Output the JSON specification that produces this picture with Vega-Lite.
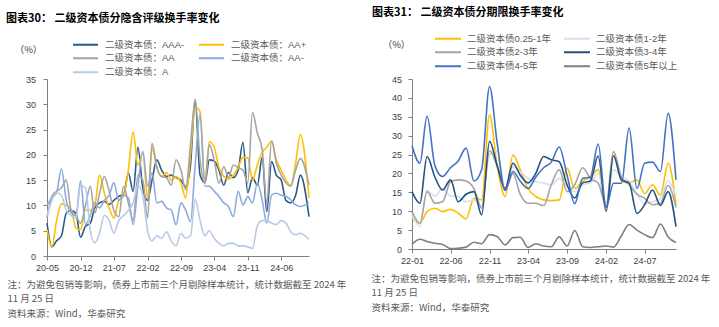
{
  "$schema": "https://vega.github.io/schema/vega-lite/v6.json",
  "background": "white",
  "padding": {"left": 6, "top": 6, "right": 0, "bottom": 0},
  "spacing": 25,
  "config": {
    "font": "Liberation Sans, Noto Sans CJK SC",
    "view": {"stroke": null},
    "axis": {"grid": false, "domainColor": "#7f7f7f", "tickColor": "#7f7f7f", "labelColor": "#404040", "labelFontSize": 9, "tickSize": 4, "labelFont": "Liberation Sans"},
    "title": {"font": "Noto Sans CJK SC", "fontSize": 11, "fontWeight": "bold", "color": "#000000", "anchor": "start", "frame": "group"}
  },
  "resolve": {"scale": {"color": "independent", "x": "independent", "y": "independent"}, "legend": {"color": "independent"}},
  "hconcat": [
    {
      "width": 262,
      "height": 177,
      "title": {"text": "图表30：  二级资本债分隐含评级换手率变化", "dx": -41, "offset": 14},
      "data": {"values": [
        {"d": "2020-05-01", "AAA-": 6.5, "AA+": 5.2, "AA": 7.5, "AA-": 10, "A": 8},
        {"d": "2020-06-01", "AAA-": 1.8, "AA+": 1.8, "AA": 11.8, "AA-": 11.5, "A": 11},
        {"d": "2020-07-01", "AAA-": 3.0, "AA+": 7.0, "AA": 12.8, "AA-": 12.5, "A": 12.5},
        {"d": "2020-08-01", "AAA-": 4.0, "AA+": 10.3, "AA": 13.5, "AA-": 17.2, "A": 12},
        {"d": "2020-09-01", "AAA-": 8.5, "AA+": 10.0, "AA": 15.0, "AA-": 11, "A": 9},
        {"d": "2020-10-01", "AAA-": 9.0, "AA+": 9.3, "AA": 9.1, "AA-": 8.5, "A": 8},
        {"d": "2020-11-01", "AAA-": 8.5, "AA+": 5.5, "AA": 8.0, "AA-": 8, "A": 7.5},
        {"d": "2020-12-01", "AAA-": 3.7, "AA+": 5.2, "AA": 6.5, "AA-": 14.8, "A": 14},
        {"d": "2021-01-01", "AAA-": 5.9, "AA+": 9.1, "AA": 10.0, "AA-": 6.2, "A": 13.5},
        {"d": "2021-02-01", "AAA-": 6.5, "AA+": 9.0, "AA": 13.8, "AA-": 8, "A": 5},
        {"d": "2021-03-01", "AAA-": 9.5, "AA+": 10.0, "AA": 8.5, "AA-": 10.5, "A": 2.6},
        {"d": "2021-04-01", "AAA-": 10.5, "AA+": 16.0, "AA": 12.4, "AA-": 9.5, "A": 4.5},
        {"d": "2021-05-01", "AAA-": 10.8, "AA+": 12.5, "AA": 15.7, "AA-": 11, "A": 8},
        {"d": "2021-06-01", "AAA-": 10.2, "AA+": 9.5, "AA": 12.8, "AA-": 12, "A": 7},
        {"d": "2021-07-01", "AAA-": 11.0, "AA+": 7.5, "AA": 9.0, "AA-": 14.5, "A": 4.5},
        {"d": "2021-08-01", "AAA-": 11.8, "AA+": 11.0, "AA": 7.8, "AA-": 11, "A": 7},
        {"d": "2021-09-01", "AAA-": 12.1, "AA+": 11.8, "AA": 13.8, "AA-": 12, "A": 8},
        {"d": "2021-10-01", "AAA-": 16.4, "AA+": 17.0, "AA": 10.5, "AA-": 11.5, "A": 9},
        {"d": "2021-11-01", "AAA-": 12.8, "AA+": 24.5, "AA": 7.0, "AA-": 6.2, "A": 10.5},
        {"d": "2021-12-01", "AAA-": 21.5, "AA+": 18.0, "AA": 16.0, "AA-": 13.8, "A": 14},
        {"d": "2022-01-01", "AAA-": 13.5, "AA+": 20.3, "AA": 15.0, "AA-": 20.7, "A": 12},
        {"d": "2022-02-01", "AAA-": 11.0, "AA+": 11.5, "AA": 7.5, "AA-": 13.8, "A": 5},
        {"d": "2022-03-01", "AAA-": 15.0, "AA+": 21.3, "AA": 22.3, "AA-": 16.4, "A": 3},
        {"d": "2022-04-01", "AAA-": 19.0, "AA+": 17.5, "AA": 17.5, "AA-": 10.5, "A": 4},
        {"d": "2022-05-01", "AAA-": 17.0, "AA+": 15.7, "AA": 15.7, "AA-": 10.8, "A": 3.5},
        {"d": "2022-06-01", "AAA-": 15.7, "AA+": 16.5, "AA": 15.5, "AA-": 9.5, "A": 4.8},
        {"d": "2022-07-01", "AAA-": 16.0, "AA+": 15.0, "AA": 14.0, "AA-": 9.1, "A": 3},
        {"d": "2022-08-01", "AAA-": 15.5, "AA+": 15.7, "AA": 19.0, "AA-": 6.2, "A": 2},
        {"d": "2022-09-01", "AAA-": 15.0, "AA+": 14.5, "AA": 17.0, "AA-": 10.5, "A": 4.5},
        {"d": "2022-10-01", "AAA-": 13.7, "AA+": 11.5, "AA": 13.1, "AA-": 9.1, "A": 3.5},
        {"d": "2022-11-01", "AAA-": 18.0, "AA+": 20.0, "AA": 22.0, "AA-": 6.8, "A": 4},
        {"d": "2022-12-01", "AAA-": 30.7, "AA+": 29.5, "AA": 31.0, "AA-": 18, "A": 11.2},
        {"d": "2023-01-01", "AAA-": 16.0, "AA+": 28.5, "AA": 19.0, "AA-": 28, "A": 7},
        {"d": "2023-02-01", "AAA-": 14.5, "AA+": 14.4, "AA": 14.5, "AA-": 13.8, "A": 4},
        {"d": "2023-03-01", "AAA-": 19.0, "AA+": 22.6, "AA": 22.0, "AA-": 13.8, "A": 5},
        {"d": "2023-04-01", "AAA-": 18.8, "AA+": 21.5, "AA": 19.0, "AA-": 12.8, "A": 3.5},
        {"d": "2023-05-01", "AAA-": 17.0, "AA+": 17.5, "AA": 14.4, "AA-": 11.8, "A": 2.5},
        {"d": "2023-06-01", "AAA-": 14.0, "AA+": 15.7, "AA": 17.7, "AA-": 10.5, "A": 2},
        {"d": "2023-07-01", "AAA-": 16.5, "AA+": 15.2, "AA": 15.5, "AA-": 9.8, "A": 2.5},
        {"d": "2023-08-01", "AAA-": 15.5, "AA+": 16.0, "AA": 18.0, "AA-": 7.8, "A": 2.5},
        {"d": "2023-09-01", "AAA-": 17.0, "AA+": 17.5, "AA": 17.5, "AA-": 12.8, "A": 2},
        {"d": "2023-10-01", "AAA-": 22.5, "AA+": 19.5, "AA": 17.0, "AA-": 10.1, "A": 2},
        {"d": "2023-11-01", "AAA-": 12.5, "AA+": 19.4, "AA": 14.5, "AA-": 11.8, "A": 1.8},
        {"d": "2023-12-01", "AAA-": 15.5, "AA+": 15.0, "AA": 28.4, "AA-": 10.5, "A": 1.5},
        {"d": "2024-01-01", "AAA-": 14.0, "AA+": 18.0, "AA": 24.3, "AA-": 14.4, "A": 6},
        {"d": "2024-02-01", "AAA-": 19.5, "AA+": 20.5, "AA": 21.0, "AA-": 11, "A": 7},
        {"d": "2024-03-01", "AAA-": 8.8, "AA+": 21.5, "AA": 10.5, "AA-": 6.5, "A": 7},
        {"d": "2024-04-01", "AAA-": 18.7, "AA+": 22.7, "AA": 22.8, "AA-": 12.1, "A": 6.5},
        {"d": "2024-05-01", "AAA-": 16.0, "AA+": 19.0, "AA": 18.4, "AA-": 12.4, "A": 6.2},
        {"d": "2024-06-01", "AAA-": 15.0, "AA+": 17.0, "AA": 16.0, "AA-": 12, "A": 7},
        {"d": "2024-07-01", "AAA-": 11.0, "AA+": 15.0, "AA": 14.5, "AA-": 11.8, "A": 6.5},
        {"d": "2024-08-01", "AAA-": 10.5, "AA+": 14.0, "AA": 13.8, "AA-": 11.1, "A": 4.8},
        {"d": "2024-09-01", "AAA-": 12.0, "AA+": 18.4, "AA": 17.0, "AA-": 10.1, "A": 4.2},
        {"d": "2024-10-01", "AAA-": 16.0, "AA+": 24.0, "AA": 19.3, "AA-": 9.8, "A": 4.5},
        {"d": "2024-11-25", "AAA-": 7.8, "AA+": 11.5, "AA": 14.0, "AA-": 10.5, "A": 3.2}
      ]},
      "transform": [{"fold": ["AAA-", "AA+", "AA", "AA-", "A"], "as": ["k", "v"]}],
      "mark": {"type": "line", "interpolate": "monotone", "strokeWidth": 1.6},
      "encoding": {
        "x": {
          "field": "d", "type": "temporal", "scale": {"type": "utc"},
          "axis": {
            "format": "%y-%m", "labelPadding": 3, "labelFontSize": 9, "labelOverlap": false, "labelFlush": false,
            "values": [
              {"year": 2020, "month": 5, "date": 1, "utc": true},
              {"year": 2020, "month": 12, "date": 1, "utc": true},
              {"year": 2021, "month": 7, "date": 1, "utc": true},
              {"year": 2022, "month": 2, "date": 1, "utc": true},
              {"year": 2022, "month": 9, "date": 1, "utc": true},
              {"year": 2023, "month": 4, "date": 1, "utc": true},
              {"year": 2023, "month": 11, "date": 1, "utc": true},
              {"year": 2024, "month": 6, "date": 1, "utc": true}
            ],
            "title": ["注：为避免包销等影响，债券上市前三个月剔除样本统计，统计数据截至 2024 年", "11 月 25 日", "资料来源：Wind，华泰研究"],
            "titleAlign": "left", "titleAnchor": "start", "titleX": -40, "titleY": 23, "titleBaseline": "top",
            "titleFont": "Noto Sans CJK SC", "titleFontSize": 9.5, "titleFontWeight": "normal", "titleColor": "#595959", "titleLineHeight": 14.5
          }
        },
        "y": {
          "field": "v", "type": "quantitative", "scale": {"domain": [0, 35], "nice": false},
          "axis": {
            "values": [0, 5, 10, 15, 20, 25, 30, 35], "labelPadding": 7.5,
            "title": "（%）", "titleAngle": 0, "titleX": -19, "titleY": -30, "titleAlign": "center", "titleBaseline": "middle",
            "titleFont": "Noto Sans CJK SC", "titleFontSize": 9.5, "titleFontWeight": "normal", "titleColor": "#404040"
          }
        },
        "color": {
          "field": "k", "type": "nominal",
          "scale": {"domain": ["AAA-", "AA", "A", "AA+", "AA-"], "range": ["#2B5A88", "#A5A5A5", "#B8CAE9", "#FFC000", "#8FAADC"]},
          "legend": {
            "orient": "none", "legendX": 25, "legendY": -41.3, "columns": 2, "title": null,
            "symbolType": "stroke", "symbolSize": 625, "symbolStrokeWidth": 2, "clipHeight": 13.3,
            "rowPadding": 0, "columnPadding": 13, "labelOffset": 6, "labelFontSize": 9.5, "labelColor": "#595959",
            "labelFont": "Liberation Sans, Noto Sans CJK SC", "labelLimit": 200,
            "labelExpr": "'二级资本债：' + datum.label"
          }
        }
      }
    },
    {
      "width": 264,
      "height": 170,
      "title": {"text": "图表31：  二级资本债分期限换手率变化", "dx": -40, "offset": 14},
      "data": {"values": [
        {"d": "2022-01-01", "r1": 8.1, "r2": 9.0, "r3": 9.9, "r4": 15.2, "r5": 27.4, "r6": 1.3},
        {"d": "2022-02-01", "r1": 6.8, "r2": 6.0, "r3": 6.8, "r4": 12.1, "r5": 22.7, "r6": 2.6},
        {"d": "2022-03-01", "r1": 9.9, "r2": 15.5, "r3": 15.2, "r4": 24.5, "r5": 35.2, "r6": 2.0},
        {"d": "2022-04-01", "r1": 10.8, "r2": 14.0, "r3": 12.1, "r4": 19.0, "r5": 22.0, "r6": 1.5},
        {"d": "2022-05-01", "r1": 9.9, "r2": 16.0, "r3": 12.5, "r4": 15.6, "r5": 19.2, "r6": 1.2},
        {"d": "2022-06-01", "r1": 10.5, "r2": 14.0, "r3": 17.8, "r4": 18.3, "r5": 21.5, "r6": 0.1},
        {"d": "2022-07-01", "r1": 9.5, "r2": 13.9, "r3": 18.3, "r4": 12.5, "r5": 23.3, "r6": 0.2},
        {"d": "2022-08-01", "r1": 8.0, "r2": 12.5, "r3": 18.0, "r4": 14.5, "r5": 26.7, "r6": 0.5},
        {"d": "2022-09-01", "r1": 13.4, "r2": 13.0, "r3": 16.0, "r4": 15.2, "r5": 18.0, "r6": 1.8},
        {"d": "2022-10-01", "r1": 13.0, "r2": 11.5, "r3": 10.8, "r4": 9.0, "r5": 21.0, "r6": 1.4},
        {"d": "2022-11-01", "r1": 35.5, "r2": 25.0, "r3": 26.0, "r4": 28.5, "r5": 43.0, "r6": 3.8},
        {"d": "2022-12-01", "r1": 22.0, "r2": 26.0, "r3": 22.0, "r4": 22.0, "r5": 28.0, "r6": 3.3},
        {"d": "2023-01-01", "r1": 13.9, "r2": 16.0, "r3": 15.6, "r4": 16.0, "r5": 15.5, "r6": 1.1},
        {"d": "2023-02-01", "r1": 24.9, "r2": 21.8, "r3": 20.0, "r4": 22.7, "r5": 20.5, "r6": 3.0},
        {"d": "2023-03-01", "r1": 21.0, "r2": 20.5, "r3": 14.5, "r4": 19.6, "r5": 18.0, "r6": 3.1},
        {"d": "2023-04-01", "r1": 16.0, "r2": 18.7, "r3": 12.1, "r4": 17.5, "r5": 16.0, "r6": 0.4},
        {"d": "2023-05-01", "r1": 13.9, "r2": 17.8, "r3": 12.1, "r4": 20.0, "r5": 19.0, "r6": 1.4},
        {"d": "2023-06-01", "r1": 13.0, "r2": 17.4, "r3": 11.5, "r4": 24.5, "r5": 21.5, "r6": 0.8},
        {"d": "2023-07-01", "r1": 12.8, "r2": 17.0, "r3": 17.0, "r4": 23.6, "r5": 23.0, "r6": 0.6},
        {"d": "2023-08-01", "r1": 13.0, "r2": 18.7, "r3": 21.0, "r4": 23.1, "r5": 27.0, "r6": 3.2},
        {"d": "2023-09-01", "r1": 21.4, "r2": 16.5, "r3": 15.2, "r4": 17.0, "r5": 19.5, "r6": 0.8},
        {"d": "2023-10-01", "r1": 16.0, "r2": 15.2, "r3": 17.0, "r4": 13.5, "r5": 12.0, "r6": 4.9},
        {"d": "2023-11-01", "r1": 18.0, "r2": 17.0, "r3": 21.5, "r4": 17.5, "r5": 18.7, "r6": 0.6},
        {"d": "2023-12-01", "r1": 19.0, "r2": 17.5, "r3": 18.7, "r4": 18.0, "r5": 19.0, "r6": 0.4},
        {"d": "2024-01-01", "r1": 21.0, "r2": 20.0, "r3": 17.4, "r4": 24.6, "r5": 27.8, "r6": 0.6},
        {"d": "2024-02-01", "r1": 11.0, "r2": 12.0, "r3": 11.6, "r4": 10.0, "r5": 11.0, "r6": 0.8},
        {"d": "2024-03-01", "r1": 25.8, "r2": 21.0, "r3": 25.8, "r4": 24.7, "r5": 17.4, "r6": 0.5},
        {"d": "2024-04-01", "r1": 18.0, "r2": 19.0, "r3": 19.0, "r4": 18.3, "r5": 17.4, "r6": 3.5},
        {"d": "2024-05-01", "r1": 17.5, "r2": 18.0, "r3": 17.0, "r4": 17.5, "r5": 32.0, "r6": 6.5},
        {"d": "2024-06-01", "r1": 18.3, "r2": 14.5, "r3": 14.5, "r4": 9.4, "r5": 16.0, "r6": 5.0},
        {"d": "2024-07-01", "r1": 14.7, "r2": 12.0, "r3": 13.4, "r4": 11.7, "r5": 22.7, "r6": 3.8},
        {"d": "2024-08-01", "r1": 17.0, "r2": 12.5, "r3": 11.7, "r4": 15.6, "r5": 23.0, "r6": 3.0},
        {"d": "2024-09-01", "r1": 14.3, "r2": 13.4, "r3": 12.1, "r4": 11.5, "r5": 20.5, "r6": 6.6},
        {"d": "2024-10-01", "r1": 22.7, "r2": 18.0, "r3": 16.8, "r4": 15.2, "r5": 35.9, "r6": 3.2},
        {"d": "2024-11-01", "r1": 11.7, "r2": 14.0, "r3": 11.0, "r4": 5.9, "r5": 18.3, "r6": 1.7}
      ]},
      "transform": [{"fold": ["r1", "r2", "r3", "r4", "r5", "r6"], "as": ["term", "val"]}],
      "mark": {"type": "line", "interpolate": "monotone", "strokeWidth": 1.6},
      "encoding": {
        "x": {
          "field": "d", "type": "temporal", "scale": {"type": "utc"},
          "axis": {
            "format": "%y-%m", "labelPadding": 3, "labelFontSize": 9, "labelOverlap": false, "labelFlush": false,
            "values": [
              {"year": 2022, "month": 1, "date": 1, "utc": true},
              {"year": 2022, "month": 6, "date": 1, "utc": true},
              {"year": 2022, "month": 11, "date": 1, "utc": true},
              {"year": 2023, "month": 4, "date": 1, "utc": true},
              {"year": 2023, "month": 9, "date": 1, "utc": true},
              {"year": 2024, "month": 2, "date": 1, "utc": true},
              {"year": 2024, "month": 7, "date": 1, "utc": true}
            ],
            "title": ["注：为避免包销等影响，债券上市前三个月剔除样本统计，统计数据截至 2024 年", "11 月 25 日", "资料来源：Wind，华泰研究"],
            "titleAlign": "left", "titleAnchor": "start", "titleX": -41, "titleY": 24.2, "titleBaseline": "top",
            "titleFont": "Noto Sans CJK SC", "titleFontSize": 9.5, "titleFontWeight": "normal", "titleColor": "#595959", "titleLineHeight": 14.5
          }
        },
        "y": {
          "field": "val", "type": "quantitative", "scale": {"domain": [0, 45], "nice": false},
          "axis": {
            "values": [0, 5, 10, 15, 20, 25, 30, 35, 40, 45], "labelPadding": 6.5,
            "title": "（%）", "titleAngle": 0, "titleX": -16, "titleY": -35, "titleAlign": "center", "titleBaseline": "middle",
            "titleFont": "Noto Sans CJK SC", "titleFontSize": 9.5, "titleFontWeight": "normal", "titleColor": "#404040"
          }
        },
        "color": {
          "field": "term", "type": "nominal",
          "scale": {"domain": ["r1", "r3", "r5", "r2", "r4", "r6"], "range": ["#FFC000", "#A5A5A5", "#4472C4", "#D5DFF2", "#24527F", "#7F7F7F"]},
          "legend": {
            "orient": "none", "legendX": 22, "legendY": -47.3, "columns": 2, "title": null,
            "symbolType": "stroke", "symbolSize": 676, "symbolStrokeWidth": 2, "clipHeight": 13.3,
            "rowPadding": 0, "columnPadding": 12, "labelOffset": 5, "labelFontSize": 9.5, "labelColor": "#595959",
            "labelFont": "Liberation Sans, Noto Sans CJK SC", "labelLimit": 200,
            "labelExpr": "datum.label == 'r1' ? '二级资本债0.25-1年' : datum.label == 'r2' ? '二级资本债1-2年' : datum.label == 'r3' ? '二级资本债2-3年' : datum.label == 'r4' ? '二级资本债3-4年' : datum.label == 'r5' ? '二级资本债4-5年' : '二级资本债5年以上'"
          }
        }
      }
    }
  ]
}
